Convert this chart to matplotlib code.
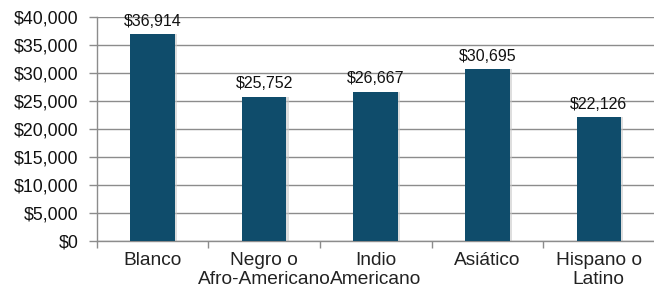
import matplotlib
matplotlib.use("Agg")
import matplotlib.pyplot as plt
from matplotlib.ticker import FuncFormatter, FixedLocator
import numpy as np

# ── データ ──
categories = ['Blanco', 'Negro o\nAfro-Americano', 'Indio\nAmericano', 'Asiático', 'Hispano o\nLatino']
values = [36914, 25752, 26667, 30695, 22126]
yticks = [0, 5000, 10000, 15000, 20000, 25000, 30000, 35000, 40000]

plt.rcParams['font.family'] = ['Liberation Sans', 'DejaVu Sans']

fig = plt.figure(figsize=(6.54, 2.90), dpi=100, facecolor='white')
ax = fig.add_axes([0.148, 0.169, 0.853, 0.772])

x = np.arange(len(categories))
# 薄い影
ax.bar(x + 0.015, values, 0.41, color='#c8c8c8', alpha=0.6, zorder=2)
ax.bar(x, values, 0.40, color='#0f4c6b', zorder=3)

for xi, v in zip(x, values):
    ax.text(xi, v + 1000, f'${v:,}', ha='center', va='bottom', fontsize=11.5,
            color='#111111', zorder=4)

ax.set_xlim(-0.5, 4.5)
ax.set_ylim(0, 40000)
ax.set_yticks(yticks)
ax.yaxis.set_major_formatter(FuncFormatter(lambda v, p: f'${int(v):,}'))
ax.grid(axis='y', color='#8c8c8c', linewidth=1.0, zorder=0)
ax.set_axisbelow(True)

ax.set_xticks(x)
ax.set_xticklabels(categories, fontsize=13.8, color='#222222', linespacing=1.12)
ax.tick_params(axis='x', length=0, pad=8)
ax.xaxis.set_minor_locator(FixedLocator(np.arange(-0.5, 5.0, 1.0)))
ax.tick_params(axis='x', which='minor', length=5, color='#8c8c8c', width=1)
ax.tick_params(axis='y', length=6, color='#8c8c8c', width=1, labelsize=12.8,
               labelcolor='#111111', pad=7)

for s in ['top', 'right']:
    ax.spines[s].set_visible(False)
for s in ['left', 'bottom']:
    ax.spines[s].set_color('#8c8c8c')
    ax.spines[s].set_linewidth(1.0)

plt.savefig('out.png', dpi=100, facecolor='white')
plt.close()
